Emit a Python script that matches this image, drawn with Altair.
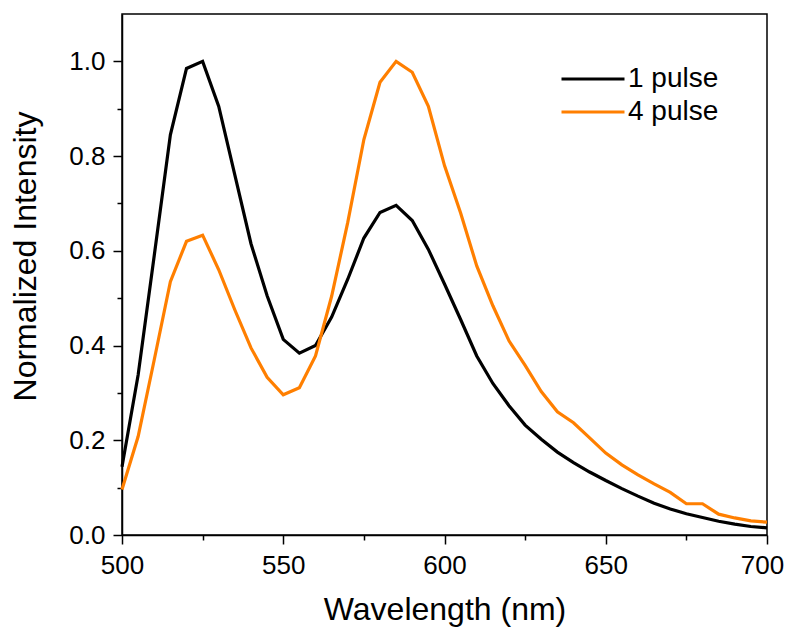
import altair as alt
import pandas as pd

wavelength = list(range(500, 701, 5))

pulse1 = [0.144, 0.338, 0.590, 0.845, 0.985, 1.000, 0.905, 0.760, 0.615, 0.505,
          0.413, 0.384, 0.400, 0.460, 0.540, 0.627, 0.681, 0.696, 0.664, 0.603,
          0.530, 0.455, 0.378, 0.320, 0.273, 0.232, 0.202, 0.175, 0.153, 0.133,
          0.115, 0.098, 0.082, 0.067, 0.055, 0.045, 0.037, 0.029, 0.023, 0.018,
          0.015]

pulse4 = [0.096, 0.208, 0.370, 0.535, 0.620, 0.633, 0.560, 0.475, 0.395, 0.333,
          0.296, 0.311, 0.378, 0.504, 0.660, 0.835, 0.956, 1.000, 0.977, 0.905,
          0.780, 0.680, 0.568, 0.484, 0.410, 0.358, 0.303, 0.260, 0.237, 0.205,
          0.173, 0.148, 0.127, 0.108, 0.090, 0.066, 0.066, 0.044, 0.036, 0.030,
          0.027]

series_names = ["1 pulse", "4 pulse"]
series_colors = ["#000000", "#FF7F00"]

x_ticks = list(range(500, 701, 25))
y_ticks = [round(i * 0.1, 1) for i in range(0, 11)]

df = pd.concat([
    pd.DataFrame({"Wavelength": wavelength, "Intensity": pulse1, "Series": series_names[0]}),
    pd.DataFrame({"Wavelength": wavelength, "Intensity": pulse4, "Series": series_names[1]}),
])

FONT = "Liberation Sans"

chart = alt.Chart(df).mark_line(strokeWidth=3.2, strokeJoin="miter").encode(
    x=alt.X("Wavelength:Q",
            scale=alt.Scale(domain=[500, 700], nice=False, zero=False),
            axis=alt.Axis(title="Wavelength (nm)", values=x_ticks,
                          labelExpr="datum.value % 50 == 0 ? datum.label : ''",
                          tickSize={"condition": {"test": "datum.value % 50 == 0", "value": 9}, "value": 5},
                          labelOffset={"condition": {"test": "datum.value == 700", "value": -5}, "value": 0},
                          labelFlush=False, grid=False, labelPadding=8, titlePadding=16)),
    y=alt.Y("Intensity:Q",
            scale=alt.Scale(domain=[0, 1.1], nice=False),
            axis=alt.Axis(title="Normalized Intensity", values=y_ticks,
                          labelExpr="round(datum.value*10) % 2 == 0 ? format(datum.value, '.1f') : ''",
                          tickSize={"condition": {"test": "round(datum.value*10) % 2 == 0", "value": 9}, "value": 5},
                          labelFlush=False, grid=False, labelPadding=8, titlePadding=26, titleY=242)),
    color=alt.Color("Series:N",
                    scale=alt.Scale(domain=series_names, range=series_colors),
                    legend=alt.Legend(title=None, orient="none", legendX=457, legendY=51,
                                      symbolType="M-3.15,0H3.15", symbolSize=400, symbolStrokeWidth=3.2,
                                      labelFontSize=28, labelFont=FONT, labelColor="#000000",
                                      labelOffset=21, rowPadding=5)),
).properties(
    width=645, height=521,
    padding={"left": 114, "top": 6, "right": 17, "bottom": 95},
    autosize=alt.AutoSizeParams(type="none"),
).configure_view(
    stroke="#000000", strokeWidth=1.5
).configure_axis(
    domainColor="#000000", domainWidth=1.5, tickColor="#000000", tickWidth=1.5,
    labelFont=FONT, labelFontSize=26, labelColor="#000000",
    titleFont=FONT, titleFontSize=32, titleFontWeight="normal", titleColor="#000000",
)

chart.save("out.html", embed_options={"renderer": "svg", "actions": False})
